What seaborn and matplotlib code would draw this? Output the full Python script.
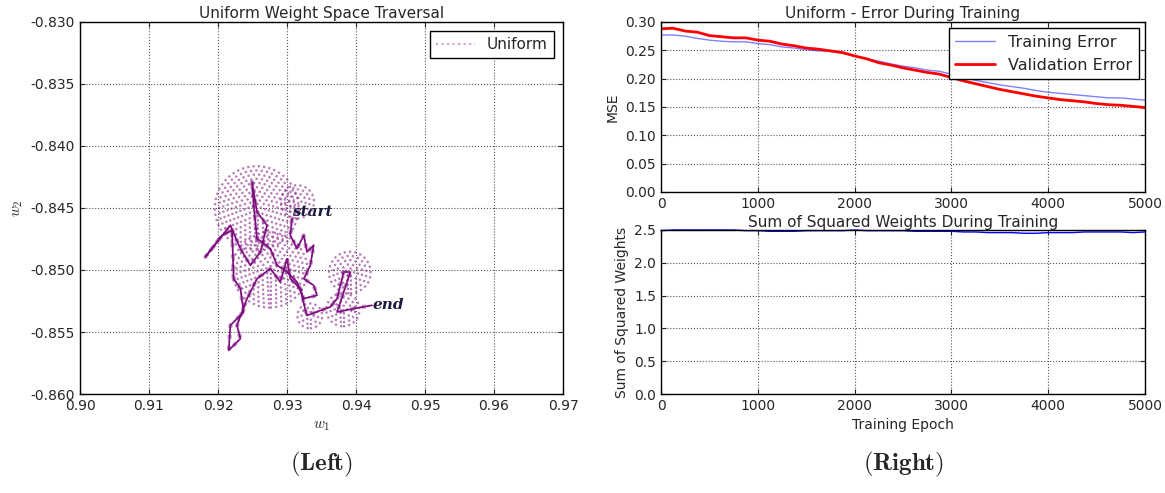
import numpy as np
import matplotlib
matplotlib.use("Agg")
import matplotlib.pyplot as plt
import seaborn as sns

# weight space trajectory (w1, w2)
w1 = [0.93072, 0.93048, 0.93145, 0.93242, 0.93290, 0.93386, 0.93338, 0.93242, 0.93386, 0.93435,
      0.93242, 0.93145, 0.93000, 0.92855, 0.92758, 0.92565, 0.92517, 0.92493, 0.92565, 0.92710,
      0.92614, 0.92469, 0.92324, 0.92179, 0.91816, 0.92058, 0.92203, 0.92227, 0.92324, 0.92372,
      0.92179, 0.92155, 0.92324, 0.92275, 0.92420, 0.92565, 0.92758, 0.92903, 0.93000, 0.93048,
      0.93193, 0.93266, 0.93290, 0.93628, 0.93725, 0.93821, 0.93918, 0.93725, 0.94014, 0.94232]
w2 = [-0.84586, -0.84720, -0.84828, -0.84720, -0.84855, -0.84801, -0.84962, -0.85070, -0.85124, -0.85204,
      -0.85231, -0.85097, -0.85016, -0.84962, -0.84828, -0.84747, -0.84478, -0.84290, -0.84532, -0.84640,
      -0.84855, -0.84962, -0.84828, -0.84640, -0.84895, -0.84720, -0.84680, -0.85070, -0.85151, -0.85339,
      -0.85446, -0.85648, -0.85554, -0.85446, -0.85231, -0.85070, -0.84989, -0.85097, -0.84909, -0.85070,
      -0.85151, -0.85325, -0.85366, -0.85298, -0.85231, -0.85016, -0.85016, -0.85339, -0.85306, -0.85285]

# spots where the trajectory leaves ripple rings
ring_w1 = [0.9256, 0.9275, 0.9391, 0.9381, 0.9315, 0.9333]
ring_w2 = [-0.8450, -0.8500, -0.8502, -0.8532, -0.8445, -0.8537]
ring_max = [44, 40, 20, 19, 19, 15]  # px radius of outer ring

# error curves
epochs = list(range(0, 5001, 125))
train_err = [0.277, 0.277, 0.275, 0.271, 0.268, 0.266, 0.265, 0.265, 0.262, 0.260,
             0.256, 0.254, 0.251, 0.249, 0.248, 0.245, 0.240, 0.235, 0.231, 0.226,
             0.222, 0.219, 0.215, 0.213, 0.208, 0.202, 0.197, 0.193, 0.189, 0.186,
             0.183, 0.179, 0.176, 0.174, 0.172, 0.170, 0.168, 0.166, 0.166, 0.164, 0.162]
val_err = [0.288, 0.289, 0.284, 0.282, 0.276, 0.274, 0.272, 0.272, 0.268, 0.266,
           0.261, 0.258, 0.254, 0.252, 0.249, 0.246, 0.240, 0.235, 0.228, 0.224,
           0.219, 0.215, 0.211, 0.208, 0.202, 0.196, 0.191, 0.186, 0.181, 0.177,
           0.173, 0.169, 0.166, 0.163, 0.161, 0.159, 0.156, 0.154, 0.153, 0.151, 0.149]
sq_weights = [2.49, 2.50, 2.50, 2.50, 2.50, 2.50, 2.50, 2.49, 2.49, 2.48,
              2.48, 2.48, 2.49, 2.49, 2.49, 2.49, 2.50, 2.49, 2.49, 2.49,
              2.49, 2.48, 2.48, 2.48, 2.48, 2.47, 2.47, 2.46, 2.46, 2.46,
              2.45, 2.45, 2.46, 2.46, 2.46, 2.47, 2.47, 2.47, 2.47, 2.46, 2.47]

sns.set_style("ticks", {
    "axes.edgecolor": "black",
    "axes.grid": True,
    "grid.color": "#555555",
    "grid.linestyle": ":",
    "xtick.direction": "in",
    "ytick.direction": "in",
    "xtick.top": True,
    "ytick.right": True,
})
plt.rcParams["font.family"] = ["DejaVu Sans"]
plt.rcParams["mathtext.fontset"] = "cm"
plt.rcParams["grid.linewidth"] = 0.8
plt.rcParams["axes.linewidth"] = 1.0
plt.rcParams["xtick.labelsize"] = 10
plt.rcParams["ytick.labelsize"] = 10
plt.rcParams["legend.fancybox"] = False
plt.rcParams["legend.edgecolor"] = "black"
plt.rcParams["legend.framealpha"] = 1

fig = plt.figure(figsize=(11.65, 4.93), dpi=100)
ax1 = fig.add_axes([0.0687, 0.2008, 0.4146, 0.7546])
ax2 = fig.add_axes([0.5674, 0.6106, 0.4155, 0.3448])
ax3 = fig.add_axes([0.5674, 0.2008, 0.4155, 0.3327])

purple = "#7b0f7e"

# left: trajectory
for cx, cy, rmax in zip(ring_w1, ring_w2, ring_max):
    radii = np.arange(4, rmax + 1, 4.2)
    ax1.scatter([cx] * len(radii), [cy] * len(radii), s=(2 * radii / 1.389) ** 2,
                facecolors="none", edgecolors=purple, linewidths=1.6,
                linestyles=(0, (1.0, 1.4)), alpha=0.55, zorder=2)
sns.lineplot(x=w1, y=w2, sort=False, estimator=None, ax=ax1, color="#d59ad6",
             linestyle=":", linewidth=1.5, label="Uniform", zorder=1)
sns.lineplot(x=w1, y=w2, sort=False, estimator=None, ax=ax1, color=purple,
             linewidth=3, linestyle=":", alpha=0.4, zorder=2)
sns.lineplot(x=w1, y=w2, sort=False, estimator=None, ax=ax1, color=purple,
             linewidth=1.2, zorder=3)
ax1.text(w1[0], w2[0], "start", fontsize=11, fontstyle="italic", fontweight="bold",
         family="DejaVu Serif", color="#1c1c3c", va="bottom", ha="left")
ax1.text(w1[-1], w2[-1], "end", fontsize=11, fontstyle="italic", fontweight="bold",
         family="DejaVu Serif", color="#1c1c3c", va="center", ha="left")
ax1.set_xlim(0.90, 0.97)
ax1.set_ylim(-0.860, -0.830)
ax1.set_xticks(np.arange(0.90, 0.9701, 0.01))
ax1.set_yticks(np.arange(-0.860, -0.8299, 0.005))
ax1.xaxis.set_major_formatter(matplotlib.ticker.FormatStrFormatter("%.2f"))
ax1.yaxis.set_major_formatter(matplotlib.ticker.FormatStrFormatter("%.3f"))
ax1.set_xlabel(r"$w_1$", fontsize=11)
ax1.set_ylabel(r"$w_2$", fontsize=11)
ax1.set_title("Uniform Weight Space Traversal", fontsize=11, pad=3)
ax1.legend(loc="upper right", fontsize=11, handlelength=2.5, borderaxespad=0.6)

# right top: errors
sns.lineplot(x=epochs, y=train_err, ax=ax2, color="blue", alpha=0.5, linewidth=1,
             label="Training Error")
sns.lineplot(x=epochs, y=val_err, ax=ax2, color="red", linewidth=2,
             label="Validation Error")
ax2.set_xlim(0, 5000)
ax2.set_ylim(0, 0.30)
ax2.set_yticks(np.arange(0, 0.301, 0.05))
ax2.yaxis.set_major_formatter(matplotlib.ticker.FormatStrFormatter("%.2f"))
ax2.set_ylabel("MSE", fontsize=10)
ax2.set_title("Uniform - Error During Training", fontsize=11, pad=3)
ax2.legend(loc="upper right", fontsize=11.5, handlelength=2.5, borderaxespad=0.4)

# right bottom: squared weights
sns.lineplot(x=epochs, y=sq_weights, ax=ax3, color="blue", linewidth=1, clip_on=False)
ax3.set_xlim(0, 5000)
ax3.set_ylim(0, 2.5)
ax3.set_yticks(np.arange(0, 2.51, 0.5))
ax3.set_xlabel("Training Epoch", fontsize=10)
ax3.set_ylabel("Sum of Squared Weights", fontsize=10)
ax3.set_title("Sum of Squared Weights During Training", fontsize=11, pad=2)

fig.text(0.2760, 0.045, r"$\mathbf{(Left)}$", fontsize=18, ha="center")
fig.text(0.7752, 0.045, r"$\mathbf{(Right)}$", fontsize=18, ha="center")

fig.savefig("out.png", dpi=100)
